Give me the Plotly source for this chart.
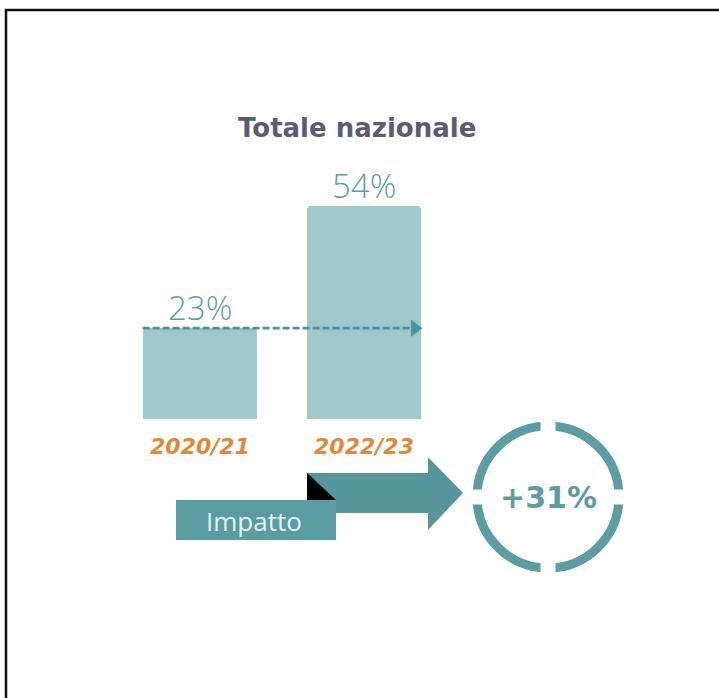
import plotly.graph_objects as go

# ---- data ----
categories = ["2020/21", "2022/23"]
values = [23, 54]
value_labels = ["23%", "54%"]
title_text = "Totale nazionale"
impact_label = "Impatto"
impact_value = values[1] - values[0]

W, H = 719, 698


def X(px):
    return px / W


def Y(py):
    return 1 - py / H


BAR_COLOR = "#9FC9CD"
TEAL = "#5A9CA1"
DASH_COLOR = "#4F9298"
ORANGE = "#E0893A"
TITLE_COLOR = "#5A5D72"

xpos = list(range(len(categories)))
bar_width = 0.70

fig = go.Figure()
fig.add_trace(go.Bar(
    x=xpos, y=values, width=bar_width,
    marker=dict(color=BAR_COLOR, line=dict(width=0), cornerradius=4),
    hoverinfo="skip", showlegend=False,
))

# dashed comparison arrow at the first value
x_start = xpos[0] - bar_width / 2
x_end = xpos[1] + bar_width / 2
fig.add_trace(go.Scatter(
    x=[x_start, x_end - 0.04], y=[values[0], values[0]], mode="lines",
    line=dict(color=DASH_COLOR, width=2.8, dash="7px,3px"),
    hoverinfo="skip", showlegend=False,
))
fig.add_trace(go.Scatter(
    x=[x_end - 0.04], y=[values[0]], mode="markers",
    marker=dict(symbol="triangle-right", size=15, color=DASH_COLOR),
    hoverinfo="skip", showlegend=False,
))

# value labels
for xi, v, lab in zip(xpos, values, value_labels):
    fig.add_annotation(
        x=xi, y=v, xref="x", yref="y", text=lab, showarrow=False,
        yanchor="bottom", yshift=-4,
        font=dict(family="Open Sans", size=33, color="#5E9EA3", weight=300),
    )

# title
fig.add_annotation(
    x=X(357), y=Y(128), xref="paper", yref="paper", text=title_text,
    showarrow=False, xanchor="center", yanchor="middle",
    font=dict(family="DejaVu Sans", size=26, color=TITLE_COLOR, weight="bold"),
)

shapes = []
# outer frame (cut off at right/bottom)
shapes.append(dict(type="rect", xref="paper", yref="paper",
                   x0=X(6), x1=X(740), y0=Y(720), y1=Y(10),
                   line=dict(color="#111111", width=2.5), fillcolor="rgba(0,0,0,0)"))

# big arrow
arrow_pts = [(307, 473), (428, 473), (428, 457), (463, 493), (428, 530), (428, 513), (307, 513)]
path = "M " + " L ".join(f"{X(a):.5f},{Y(b):.5f}" for a, b in arrow_pts) + " Z"
shapes.append(dict(type="path", xref="paper", yref="paper", path=path,
                   fillcolor="#56979D", line=dict(width=0)))
# black fold triangle
tri = [(307, 473), (336, 500), (307, 500)]
path = "M " + " L ".join(f"{X(a):.5f},{Y(b):.5f}" for a, b in tri) + " Z"
shapes.append(dict(type="path", xref="paper", yref="paper", path=path,
                   fillcolor="#000000", line=dict(width=0)))
# Impatto box
shapes.append(dict(type="rect", xref="paper", yref="paper",
                   x0=X(176), x1=X(336), y0=Y(540), y1=Y(500),
                   fillcolor=TEAL, line=dict(width=0)))

# ring with four gaps
cx, cy, r = 548, 497, 71
shapes.append(dict(type="circle", xref="paper", yref="paper",
                   x0=X(cx - r), x1=X(cx + r), y0=Y(cy + r), y1=Y(cy - r),
                   line=dict(color="#5B9DA2", width=9), fillcolor="rgba(0,0,0,0)"))
g = 7.5
shapes.append(dict(type="rect", xref="paper", yref="paper",
                   x0=X(cx - g), x1=X(cx + g), y0=Y(cy - r - 10), y1=Y(cy - r + 10),
                   fillcolor="white", line=dict(width=0)))
shapes.append(dict(type="rect", xref="paper", yref="paper",
                   x0=X(cx - g), x1=X(cx + g), y0=Y(cy + r + 10), y1=Y(cy + r - 10),
                   fillcolor="white", line=dict(width=0)))
shapes.append(dict(type="rect", xref="paper", yref="paper",
                   x0=X(cx - r - 10), x1=X(cx - r + 10), y0=Y(cy + g), y1=Y(cy - g),
                   fillcolor="white", line=dict(width=0)))
shapes.append(dict(type="rect", xref="paper", yref="paper",
                   x0=X(cx + r - 10), x1=X(cx + r + 10), y0=Y(cy + g), y1=Y(cy - g),
                   fillcolor="white", line=dict(width=0)))

fig.add_annotation(
    x=X(254), y=Y(521), xref="paper", yref="paper", text=impact_label,
    showarrow=False, xanchor="center", yanchor="middle",
    font=dict(family="Open Sans", size=26, color="#E6F3F3"),
)
fig.add_annotation(
    x=X(cx), y=Y(cy), xref="paper", yref="paper", text=f"+{impact_value}%",
    showarrow=False, xanchor="center", yanchor="middle",
    font=dict(family="DejaVu Sans", size=30, color="#5B9DA2", weight="bold"),
)

# axes: baseline at y=419 px, ~3.95 px per unit
y_base, y_top = 419, 419 - 60 * 3.95
fig.update_layout(
    width=W, height=H, margin=dict(l=0, r=0, t=0, b=0),
    paper_bgcolor="white", plot_bgcolor="white",
    shapes=shapes, bargap=0,
    xaxis=dict(domain=[X(118), X(446)], range=[-0.5, 1.5], tickmode="array",
               tickvals=xpos, ticktext=categories, showgrid=False, zeroline=False,
               showline=False, ticks="", ticklabelstandoff=12,
               tickfont=dict(family="DejaVu Sans", size=22, color=ORANGE,
                             weight="bold", style="italic"),
               fixedrange=True),
    yaxis=dict(domain=[Y(y_base), Y(y_top)], range=[0, 60], visible=False,
               showgrid=False, zeroline=False, fixedrange=True),
)

fig.write_html("out.html", config={"displayModeBar": False},
               post_script="document.body.style.margin='0px';")
